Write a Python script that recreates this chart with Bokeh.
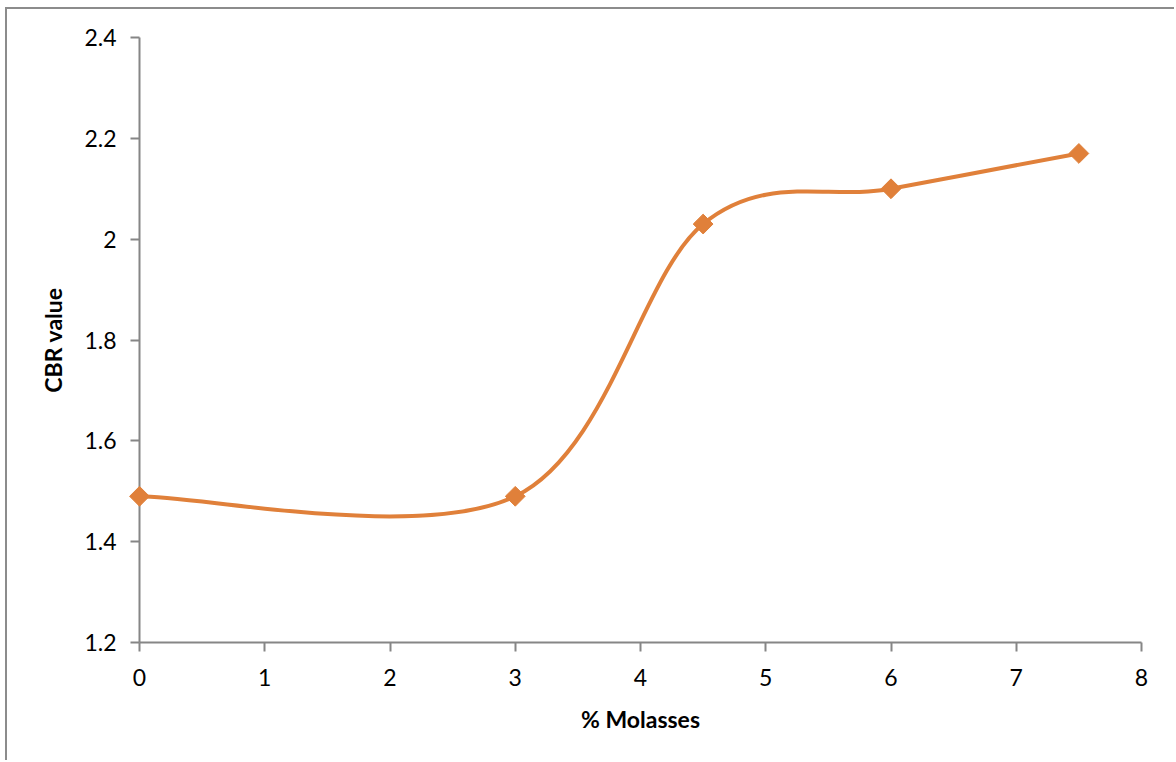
from bokeh.plotting import figure
from bokeh.models import Range1d, FixedTicker, CustomJSTickFormatter
from bokeh.embed import file_html
from bokeh.resources import INLINE

# ---- data ----
molasses_pct = [0, 3, 4.5, 6, 7.5]
cbr_value = [1.49, 1.49, 2.03, 2.10, 2.17]
x_ticks = [0, 1, 2, 3, 4, 5, 6, 7, 8]
y_ticks = [1.2, 1.4, 1.6, 1.8, 2.0, 2.2, 2.4]

LINE = "#E0803A"
AXIS = "#868686"
FONT = "Lato"

p = figure(width=1169, height=753, output_backend="svg", toolbar_location=None,
           x_range=Range1d(0, 8), y_range=Range1d(1.2, 2.4),
           min_border_left=132, min_border_right=35, min_border_top=28, min_border_bottom=120)
p.styles = {"margin-left": "5px", "margin-top": "7px",
            "border-left": "2px solid #8c8c8c", "border-top": "2px solid #8c8c8c"}
p.outline_line_color = None
p.xgrid.visible = False
p.ygrid.visible = False
p.background_fill_color = "white"
p.border_fill_color = "white"

# Smoothed (Excel-style Catmull-Rom) curve from the data points
n = len(molasses_pct)
pts = list(zip(molasses_pct, cbr_value))
x0s, y0s, x1s, y1s, cx0s, cy0s, cx1s, cy1s = [], [], [], [], [], [], [], []
for i in range(n - 1):
    pm = pts[max(i - 1, 0)]
    a = pts[i]
    b = pts[i + 1]
    pn = pts[min(i + 2, n - 1)]
    x0s.append(a[0]); y0s.append(a[1]); x1s.append(b[0]); y1s.append(b[1])
    cx0s.append(a[0] + (b[0] - pm[0]) / 6.0); cy0s.append(a[1] + (b[1] - pm[1]) / 6.0)
    cx1s.append(b[0] - (pn[0] - a[0]) / 6.0); cy1s.append(b[1] - (pn[1] - a[1]) / 6.0)
p.bezier(x0=x0s, y0=y0s, x1=x1s, y1=y1s, cx0=cx0s, cy0=cy0s, cx1=cx1s, cy1=cy1s,
         line_color=LINE, line_width=4, level="overlay")

p.scatter(molasses_pct, cbr_value, marker="square", angle=0.785398, size=14,
          fill_color=LINE, line_color=LINE, line_width=1, level="overlay")

fmt = CustomJSTickFormatter(code="return (Math.round(tick*10)/10).toString();")
for ax, ticks in ((p.xaxis[0], x_ticks), (p.yaxis[0], y_ticks)):
    ax.ticker = FixedTicker(ticks=ticks)
    ax.formatter = fmt
    ax.minor_tick_line_color = None
    ax.major_tick_in = 0
    ax.major_tick_out = 9
    ax.axis_line_color = AXIS
    ax.axis_line_width = 2
    ax.major_tick_line_color = AXIS
    ax.major_tick_line_width = 2
    ax.major_label_text_font = FONT
    ax.major_label_text_font_size = "23px"
    ax.major_label_text_color = "black"
    ax.axis_label_text_font = FONT
    ax.axis_label_text_font_size = "23px"
    ax.axis_label_text_font_style = "bold"
    ax.axis_label_text_color = "black"

p.xaxis[0].axis_label = "% Molasses"
p.yaxis[0].axis_label = "CBR value"
p.xaxis[0].major_label_standoff = 17
p.yaxis[0].major_label_standoff = 14
p.xaxis[0].axis_label_standoff = 16
p.yaxis[0].axis_label_standoff = 14

open("out.html", "w").write(file_html(p, INLINE))
